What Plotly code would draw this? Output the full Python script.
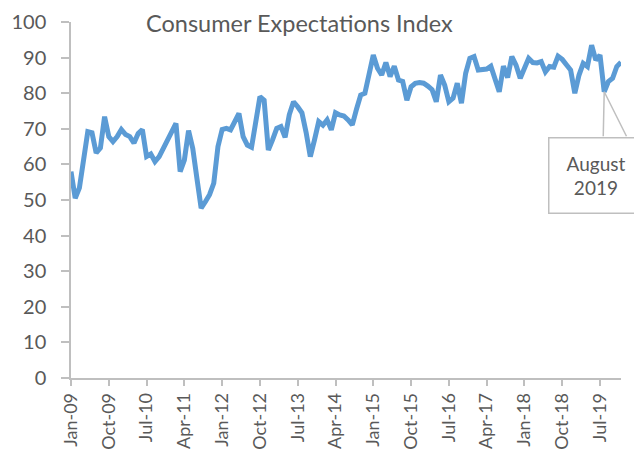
import plotly.graph_objects as go

months = ["Jan", "Feb", "Mar", "Apr", "May", "Jun", "Jul", "Aug", "Sep", "Oct", "Nov", "Dec"]
years = list(range(2009, 2020))
categories = [f"{m}-{str(y)[2:]}" for y in years for m in months]

index_2009 = [58, 50.5, 53.4, 62, 69.2, 68.9, 63.2, 64.6, 73.4, 67.8, 66.4, 67.8]
index_2010 = [69.8, 68.4, 67.8, 66, 68.7, 69.8, 62.2, 62.9, 60.8, 62.2, 64.5, 66.9]
index_2011 = [69, 71.5, 58, 61.2, 69.5, 64.5, 56, 47.7, 49.5, 51.5, 54.7, 65]
index_2012 = [69.8, 70.1, 69.7, 72, 74.3, 67.8, 65.4, 64.8, 72, 79, 78, 64]
index_2013 = [66.9, 70.1, 70.6, 67.6, 74, 77.6, 76.2, 74.5, 69, 62.2, 66.9, 72]
index_2014 = [71, 72.5, 69.7, 74.5, 73.9, 73.6, 72.5, 71.1, 75.5, 79.5, 80, 85]
index_2015 = [90.7, 87, 85.1, 88.6, 84.7, 87.6, 83.7, 83.3, 78, 81.8, 82.8, 83]
index_2016 = [82.8, 82, 81, 77.6, 85.1, 82.3, 77.6, 78.6, 82.8, 77.2, 85.6, 89.8]
index_2017 = [90.3, 86.5, 86.5, 86.8, 87.6, 84, 80.4, 87.6, 84.4, 90.3, 87.9, 84.2]
index_2018 = [87.5, 89.8, 88.6, 88.5, 88.9, 86, 87.5, 87.3, 90.4, 89.5, 88, 86.5]
index_2019 = [80, 85.1, 88.4, 87.5, 93.5, 89.3, 90.7, 80.4, 83.3, 84.2, 87.5, 88.7]

values = (index_2009 + index_2010 + index_2011 + index_2012 + index_2013 + index_2014
          + index_2015 + index_2016 + index_2017 + index_2018 + index_2019)

tick_labels = categories[::9]
callout_category = "Aug-19"
callout_text = "August<br>2019"
title_text = "Consumer Expectations Index"

x_idx = list(range(len(values)))
tick_idx = x_idx[::9]
ci = categories.index(callout_category)
cv = values[ci]

FONT = "Lato"
GREY = "#595959"
AXIS = "#bfbfbf"

# page body has an 8px default margin, so the figure is 8px smaller
W, H = 634, 452
ML, MR, MT, MB = 63, 21, 14, 82
PW, PH = W - ML - MR, H - MT - MB

fig = go.Figure()
fig.add_trace(go.Scatter(
    x=x_idx, y=values, mode="lines",
    line=dict(color="#5b9bd5", width=5),
    hoverinfo="skip", showlegend=False,
))

# callout wedge lines
for ax_off in (-1, 23):
    fig.add_annotation(x=ci, y=cv, xref="x", yref="y", text="", showarrow=True,
                       arrowhead=0, arrowwidth=1.5, arrowcolor=AXIS,
                       ax=ax_off, ay=46)
# callout box
fig.add_annotation(x=ci, y=cv, xref="x", yref="y", text=callout_text, showarrow=False,
                   xshift=-8, yshift=-84, width=91, height=72,
                   bordercolor=AXIS, borderwidth=1.5, bgcolor="white",
                   font=dict(family=FONT, size=19, color=GREY), align="center")

# title
fig.add_annotation(x=(291 - ML) / PW, y=(H - MB - 0.5) / PH, xref="paper", yref="paper",
                   text=title_text, showarrow=False, xanchor="center", yanchor="top",
                   borderpad=0,
                   font=dict(family=FONT, size=23.5, color=GREY))

fig.update_layout(
    width=W, height=H,
    margin=dict(l=ML, r=MR, t=MT, b=MB),
    paper_bgcolor="white", plot_bgcolor="white",
    xaxis=dict(range=[0, len(values) - 1], tickmode="array", tickvals=tick_idx,
               ticktext=tick_labels, tickangle=-90, showgrid=False, zeroline=False,
               showline=True, linecolor=AXIS, linewidth=1.5, automargin=False,
               ticks="outside", ticklen=6, tickcolor=AXIS, tickwidth=1.5,
               tickfont=dict(family=FONT, size=18, color=GREY)),
    yaxis=dict(range=[0, 100], dtick=10, showgrid=False, zeroline=False,
               showline=True, linecolor=AXIS, linewidth=1.5, automargin=False,
               ticks="outside", ticklen=8, tickcolor=AXIS, tickwidth=1.5,
               ticklabelstandoff=11,
               tickfont=dict(family=FONT, size=20, color=GREY)),
)

fig.write_html("out.html")
